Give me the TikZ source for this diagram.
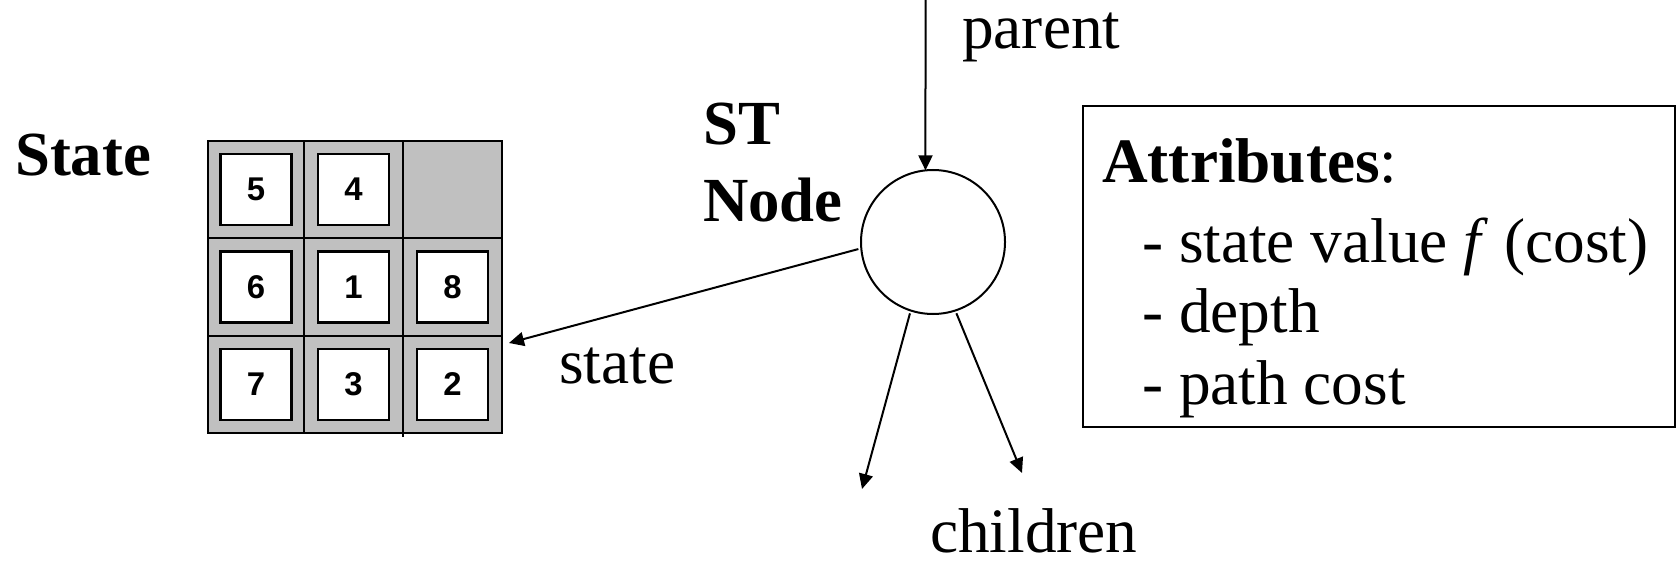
\documentclass[tikz,border=0pt]{standalone}
\usepackage{fontspec}
\setmainfont{Liberation Serif}
\newfontfamily\tilefont{Liberation Sans}
\usetikzlibrary{arrows.meta}
\definecolor{gridgray}{RGB}{192,192,192}
\begin{document}
\begin{tikzpicture}[x=1bp,y=-1bp,
  lbl/.style={anchor=base west, inner sep=0, font=\fontsize{63.5}{74}\selectfont},
  blbl/.style={anchor=base west, inner sep=0, font=\fontsize{63}{74}\selectfont\bfseries},
  arr/.style={line width=2bp, -{Triangle[length=15bp,width=14bp]}},
  tile/.style={draw, line width=2.2bp, fill=white, minimum size=71bp, inner sep=0,
               font=\tilefont\bfseries\fontsize{33}{33}\selectfont},
  gridline/.style={line width=1.5bp},
]
\useasboundingbox (0,0) rectangle (1677,563);

% 8-puzzle board
\fill[gridgray] (208,141) rectangle (502,433);
\draw[gridline] (208,141) rectangle (502,433);
\draw[gridline] (304,141) -- (304,433) (403,141) -- (403,437)
                (208,238) -- (502,238) (208,336) -- (502,336);
\node[tile] (t5) at (256,189.5) {5};
\node[tile] (t4) at (353.5,189.5) {4};
\node[tile] (t6) at (256,287) {6};
\node[tile] (t1) at (353.5,287) {1};
\node[tile] (t8) at (452.5,287) {8};
\node[tile] (t7) at (256,384.5) {7};
\node[tile] (t3) at (353.5,384.5) {3};
\node[tile] (t2) at (452.5,384.5) {2};

% search-tree node
\node[draw, circle, line width=2bp, minimum size=144bp, inner sep=0, outer sep=0] (n) at (933,242) {};

\coordinate (ptop) at (925.5,0);
\coordinate (sEnd) at (509,343);
\coordinate (cL) at (862,489);
\coordinate (cR) at (1022,473);
\draw[arr] (ptop) -- (n.96);
\draw[arr, shorten <=3bp] (n.185) -- (sEnd);
\draw[arr, shorten <=3bp] (n.252) -- (cL);
\draw[arr, shorten <=3bp] (n.288) -- (cR);

% labels
\node[blbl] (stateLbl) at (15,176) {State};
\node[blbl] (stLbl) at (703,145) {ST};
\node[blbl] (nodeLbl) at (703,222) {Node};
\node[lbl] (parentLbl) at (962,49) {parent};
\node[lbl] (stateTxt) at (559,383) {state};
\node[lbl] (childTxt) at (930,552) {children};

% attribute list
\node[draw, line width=2bp, minimum width=592bp, minimum height=321bp, inner sep=0,
      anchor=north west] (attr) at (1082,105) {};
\node[lbl] (a0) at (1102,183) {\textbf{Attributes}:};
\node[lbl] (a1) at (1142,262) {- state value \textit{f} (cost)};
\node[lbl] (a2) at (1142,332) {- depth};
\node[lbl] (a3) at (1142,404) {- path cost};
\end{tikzpicture}
\end{document}
